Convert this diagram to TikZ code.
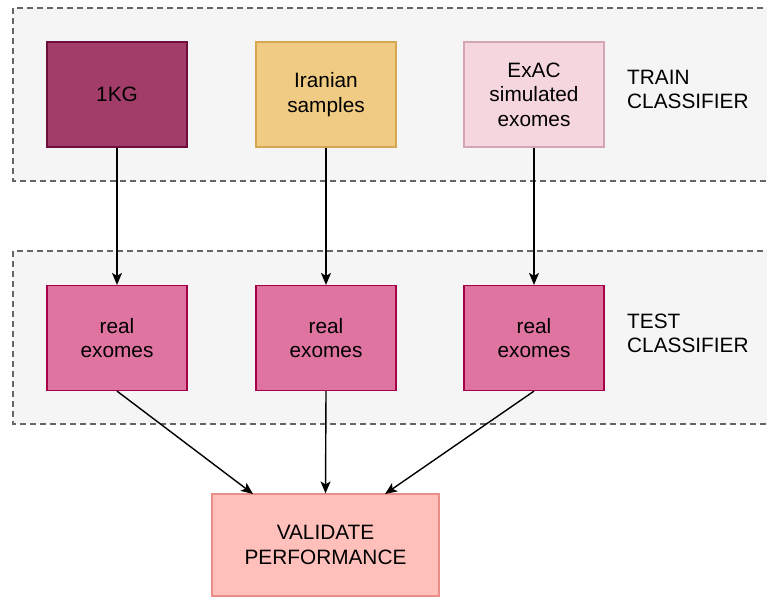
\documentclass[tikz,border=0pt]{standalone}
\usepackage{fontspec}
\setmainfont{Liberation Sans}
\usetikzlibrary{arrows.meta}
\definecolor{bandfill}{HTML}{F5F5F5}
\definecolor{banddraw}{HTML}{666666}
\definecolor{kgfill}{HTML}{A23D69}
\definecolor{kgdraw}{HTML}{6D0F3A}
\definecolor{irfill}{HTML}{F0CB84}
\definecolor{irdraw}{HTML}{D6A650}
\definecolor{exfill}{HTML}{F6D6DE}
\definecolor{exdraw}{HTML}{D4A5B2}
\definecolor{rfill}{HTML}{E074A0}
\definecolor{rdraw}{HTML}{A50048}
\definecolor{vfill}{HTML}{FFBFBA}
\definecolor{vdraw}{HTML}{EA8E89}
\tikzset{
  band/.style={draw=banddraw, fill=bandfill, dashed, dash pattern=on 6pt off 4pt, line width=1.2pt},
  box/.style={rectangle, minimum width=140pt, minimum height=105pt, inner sep=0pt, align=center, line width=1.2pt,
    font=\fontsize{20.8}{24.5}\selectfont},
  lbl/.style={anchor=west, align=left, inner sep=0pt, font=\fontsize{20.8}{24.5}\selectfont},
  arr/.style={-{Stealth[length=12pt,width=10pt,inset=3pt]}, line width=1.4pt, black}
}
\begin{document}
\begin{tikzpicture}[x=1pt,y=-1pt]
\useasboundingbox (0,0) rectangle (767,598);
\begin{scope}
\clip (0,0) rectangle (767,598);
\draw[band] (13,8) rectangle (790,181);
\draw[band] (13,251) rectangle (790,424);
\node[box, fill=kgfill, draw=kgdraw] (kg) at (117,94.5) {1KG};
\node[box, fill=irfill, draw=irdraw] (ir) at (326,94.5) {Iranian\\samples};
\node[box, fill=exfill, draw=exdraw] (ex) at (534,94.5) {ExAC\\simulated\\exomes};
\node[box, fill=rfill, draw=rdraw] (r1) at (117,338) {real\\exomes};
\node[box, fill=rfill, draw=rdraw] (r2) at (326,338) {real\\exomes};
\node[box, fill=rfill, draw=rdraw] (r3) at (534,338) {real\\exomes};
\node[box, fill=vfill, draw=vdraw, minimum width=227pt, minimum height=102pt] (v) at (325.5,545) {VALIDATE\\PERFORMANCE};
\coordinate (vl) at (253,494);
\coordinate (vr) at (385,494);
\end{scope}
\node[lbl] (tr) at (627,89.5) {TRAIN\\CLASSIFIER};
\node[lbl] (te) at (627,333.5) {TEST\\CLASSIFIER};
\draw[arr] (kg.south) -- (r1.north);
\draw[arr] (ir.south) -- (r2.north);
\draw[arr] (ex.south) -- (r3.north);
\draw[arr] (r1.south) -- (vl);
\draw[arr] (r2.south) -- (v.north);
\draw[arr] (r3.south) -- (vr);
\end{tikzpicture}
\end{document}
